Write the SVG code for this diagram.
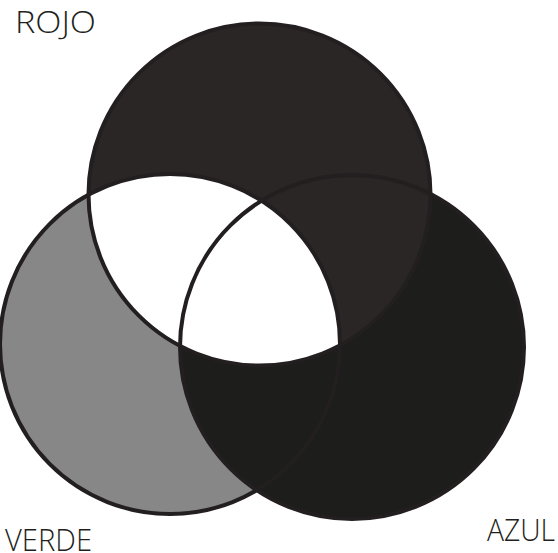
<svg xmlns="http://www.w3.org/2000/svg" width="558" height="553" viewBox="0 0 558 553">
<style>
.ol{fill:none;stroke:#231f20;stroke-width:4}
.lbl{font-family:"Open Sans","Noto Sans",sans-serif;font-size:31px;font-weight:300;fill:#231f20}
</style>
<defs>
<clipPath id="clipTop"><circle cx="259.5" cy="194.5" r="171"/></clipPath>
</defs>
<rect width="558" height="553" fill="#fff"/>
<g id="verde"><circle cx="170" cy="344" r="170" fill="#878787"/></g>
<g id="azul"><circle cx="352" cy="347" r="172" fill="#1d1d1b"/></g>
<g id="rojo"><circle cx="259.5" cy="194.5" r="171" fill="#2a2625"/></g>
<g id="interseccion"><circle cx="170" cy="344" r="170" fill="#fff" clip-path="url(#clipTop)"/></g>
<g id="contornos">
<circle class="ol" cx="170" cy="344" r="170"/>
<circle class="ol" cx="352" cy="347" r="172"/>
<circle class="ol" cx="259.5" cy="194.5" r="171"/>
</g>
<g id="etiquetas">
<text class="lbl" x="15" y="33" textLength="81" lengthAdjust="spacingAndGlyphs">ROJO</text>
<text class="lbl" x="5" y="551" textLength="87" lengthAdjust="spacingAndGlyphs">VERDE</text>
<text class="lbl" x="487" y="541" textLength="68" lengthAdjust="spacingAndGlyphs">AZUL</text>
</g>
</svg>
